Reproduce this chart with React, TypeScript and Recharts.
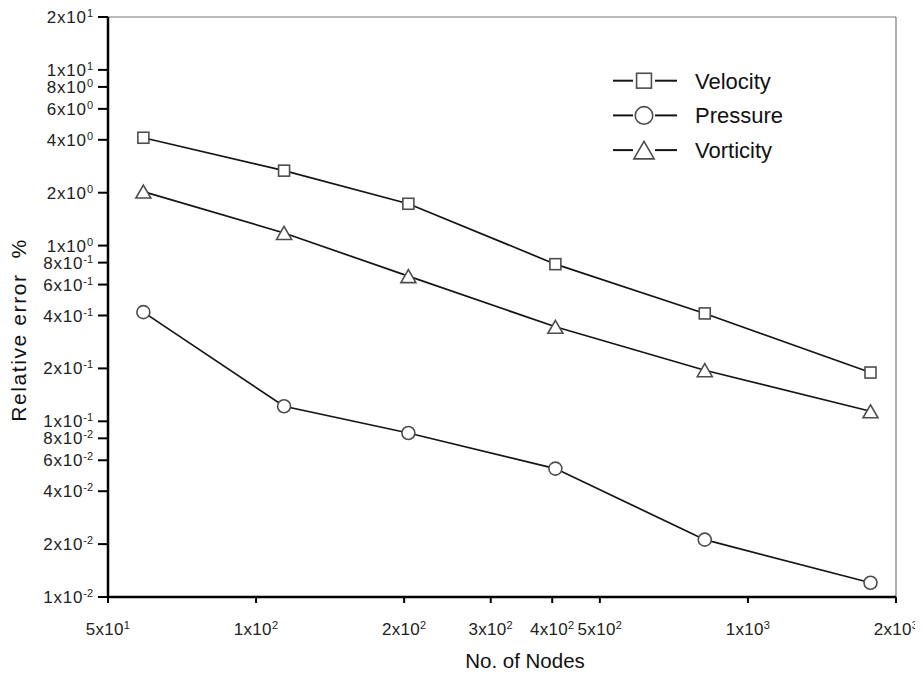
import React from 'react';
import { LineChart, Line, XAxis, YAxis, Legend, ReferenceLine } from 'recharts';

const NODES = [59, 114, 204, 406, 817, 1775];
const VELOCITY = [4.11, 2.67, 1.73, 0.784, 0.411, 0.1895];
const PRESSURE = [0.418, 0.1218, 0.0858, 0.0538, 0.0212, 0.01205];
const VORTICITY = [2.03, 1.18, 0.67, 0.345, 0.1953, 0.114];

const X_TICKS = [50, 100, 200, 300, 400, 500, 1000, 2000];
const Y_TICKS = [0.01, 0.02, 0.04, 0.06, 0.08, 0.1, 0.2, 0.4, 0.6, 0.8, 1, 2, 4, 6, 8, 10, 20];

const X_LABEL = 'No. of Nodes';
const Y_LABEL = 'Relative error  %';

const SERIES = [
  { key: 'velocity', name: 'Velocity', shape: 'square' },
  { key: 'pressure', name: 'Pressure', shape: 'circle' },
  { key: 'vorticity', name: 'Vorticity', shape: 'triangle' },
];

const data = NODES.map((n, i) => ({
  nodes: n,
  velocity: VELOCITY[i],
  pressure: PRESSURE[i],
  vorticity: VORTICITY[i],
}));

const FONT = '"Liberation Sans", Arial, Helvetica, sans-serif';
const MARKER_STROKE = '#4d4d4d';
const LINE_COLOR = '#151515';

function sci(v: number): [number, number] {
  const e = Math.floor(Math.log10(v) + 1e-9);
  const m = Math.round(v / Math.pow(10, e));
  return [m, e];
}

function Marker({ shape, cx, cy, s = 1 }: { shape: string; cx: number; cy: number; s?: number }) {
  const common = { stroke: MARKER_STROKE, strokeWidth: 1.6, fill: '#fff' };
  if (shape === 'square') {
    const h = 5.5 * s;
    return <rect x={cx - h} y={cy - h} width={2 * h} height={2 * h} {...common} />;
  }
  if (shape === 'circle') {
    return <circle cx={cx} cy={cy} r={6.5 * s} {...common} />;
  }
  const w = 7.5 * s;
  const hh = 6.5 * s;
  return <polygon points={`${cx},${cy - hh} ${cx + w},${cy + hh} ${cx - w},${cy + hh}`} {...common} strokeLinejoin="miter" />;
}

const XTick = (props: any) => {
  const { x, y, payload } = props;
  const [m, e] = sci(payload.value);
  return (
    <text x={x} y={y + 30} textAnchor="middle" fontSize={17} letterSpacing={0.3} fill="#222" fontFamily={FONT}>
      {`${m}x10`}
      <tspan dy={-6} fontSize={11}>{e}</tspan>
    </text>
  );
};

const YTick = (props: any) => {
  const { x, y, payload } = props;
  const [m, e] = sci(payload.value);
  return (
    <text x={x} y={y + 6} textAnchor="end" fontSize={17} letterSpacing={0.8} fill="#222" fontFamily={FONT}>
      {`${m}x10`}
      <tspan dy={-6} fontSize={11} letterSpacing={0}>{e}</tspan>
    </text>
  );
};

const YLabel = (props: any) => {
  const vb = props.viewBox || { x: 0, y: 9, width: 100, height: 580 };
  const cx = vb.x + 18;
  const cy = vb.y + vb.height / 2 + 23;
  return (
    <text
      x={cx}
      y={cy}
      transform={`rotate(-90, ${cx}, ${cy})`}
      textAnchor="middle"
      fontSize={21}
      letterSpacing={1.6}
      fill="#111"
      fontFamily={FONT}
      style={{ whiteSpace: 'pre' }}
    >
      {Y_LABEL}
    </text>
  );
};

const XLabel = (props: any) => {
  const vb = props.viewBox || { x: 100, y: 589, width: 788, height: 80 };
  return (
    <text x={vb.x + vb.width / 2 + 23} y={vb.y + 71} textAnchor="middle" fontSize={20.5} fill="#111" fontFamily={FONT}>
      {X_LABEL}
    </text>
  );
};

const LegendContent = () => (
  <svg width={260} height={115} style={{ display: 'block', overflow: 'visible' }}>
    {SERIES.map((s, i) => {
      const cy = 22.7 + i * 34.7;
      return (
        <g key={s.key}>
          <line x1={5} x2={25} y1={cy} y2={cy} stroke={LINE_COLOR} strokeWidth={2} />
          <line x1={47} x2={69} y1={cy} y2={cy} stroke={LINE_COLOR} strokeWidth={2} />
          <Marker shape={s.shape} cx={36} cy={cy} s={1.35} />
          <text x={87} y={cy + 8} fontSize={22} fill="#111" fontFamily={FONT}>
            {s.name}
          </text>
        </g>
      );
    })}
  </svg>
);

export default function App() {
  return (
    <div style={{ width: 915, height: 669, fontFamily: FONT }}>
      <style>{`html,body{overflow:hidden;}`}</style>
      <LineChart width={915} height={669} data={data} margin={{ top: 9, right: 27, bottom: 0, left: 0 }}>
        <XAxis
          dataKey="nodes"
          type="number"
          scale="log"
          domain={[50, 2000]}
          allowDataOverflow
          ticks={X_TICKS}
          interval={0}
          height={80}
          tickSize={6}
          tickMargin={2}
          tick={<XTick />}
          axisLine={{ stroke: '#000', strokeWidth: 2.5 }}
          tickLine={{ stroke: '#000', strokeWidth: 2 }}
          label={<XLabel />}
        />
        <YAxis
          type="number"
          scale="log"
          domain={[0.01, 20]}
          allowDataOverflow
          ticks={Y_TICKS}
          interval={0}
          width={100}
          tickSize={10}
          tickMargin={5}
          tick={<YTick />}
          axisLine={{ stroke: '#000', strokeWidth: 2.5 }}
          tickLine={{ stroke: '#000', strokeWidth: 2 }}
          label={<YLabel />}
        />
        <ReferenceLine y={20} stroke="#777" strokeWidth={1.2} />
        <ReferenceLine x={2000} stroke="#777" strokeWidth={1.2} />
        {SERIES.map((s) => (
          <Line
            key={s.key}
            dataKey={s.key}
            name={s.name}
            type="linear"
            stroke={LINE_COLOR}
            strokeWidth={1.7}
            isAnimationActive={false}
            activeDot={false}
            legendType="none"
            dot={(p: any) => <Marker key={`${s.key}-${p.index}`} shape={s.shape} cx={p.cx} cy={p.cy} />}
          />
        ))}
        <Legend
          layout="horizontal"
          verticalAlign="middle"
          align="center"
          content={<LegendContent />}
          wrapperStyle={{ position: 'absolute', left: 600, top: 50, width: 260 }}
        />
      </LineChart>
    </div>
  );
}
